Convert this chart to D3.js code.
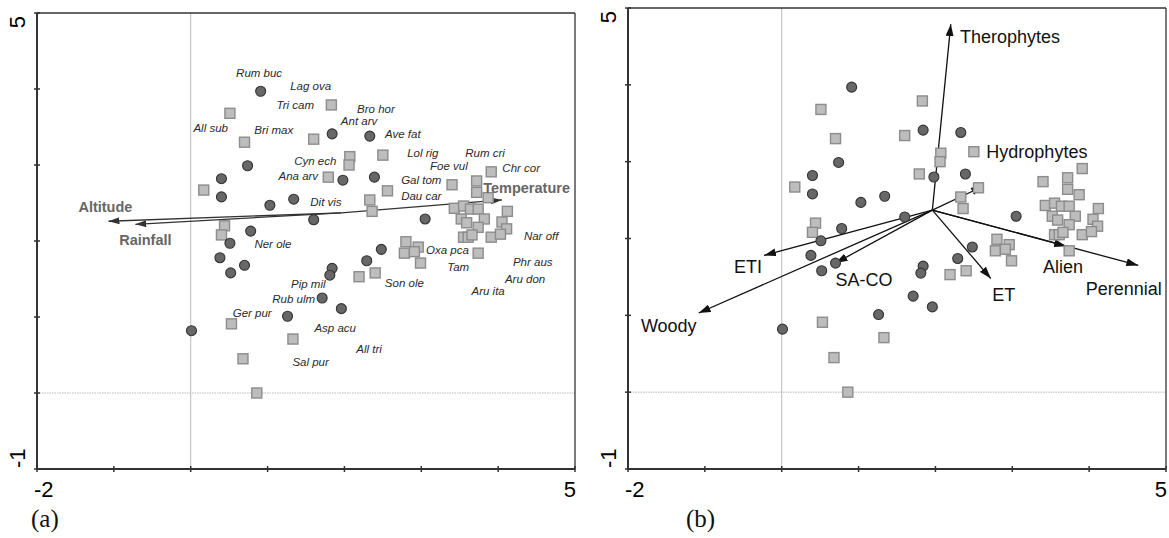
<!DOCTYPE html>
<html>
<head>
<meta charset="utf-8">
<script src="https://cdn.jsdelivr.net/npm/d3@7"></script>
<style>
  body { margin: 0; background: #fff; }
  svg { display: block; font-family: "Liberation Sans", Arial, sans-serif; }
</style>
</head>
<body>
<div id="chart"></div>
<script>
// site scores (same samples in both panels), [axis1, axis2]
const circleSites = [
  [0.91, 3.97], [1.84, 3.41], [2.33, 3.38], [0.74, 2.99], [0.40, 2.82],
  [0.40, 2.58], [1.03, 2.47], [1.34, 2.55], [1.98, 2.80], [2.39, 2.84],
  [1.60, 2.28], [3.05, 2.29], [0.78, 2.13], [0.51, 1.97], [0.38, 1.78],
  [0.70, 1.68], [0.52, 1.58], [2.48, 1.89], [2.29, 1.74], [1.84, 1.64],
  [1.81, 1.55], [1.71, 1.25], [1.96, 1.11], [1.26, 1.01], [0.01, 0.82]
];
const squareSites = [
  [0.51, 3.68], [1.83, 3.79], [0.70, 3.30], [1.60, 3.34], [2.07, 3.11],
  [2.06, 3.00], [1.79, 2.84], [0.17, 2.67], [2.50, 3.13], [2.56, 2.66],
  [2.33, 2.54], [2.36, 2.39], [0.44, 2.20], [0.40, 2.08], [2.19, 1.53],
  [2.40, 1.58], [0.53, 0.91], [1.33, 0.71], [0.68, 0.45], [0.86, 0.00],
  [2.80, 1.99], [2.96, 1.92], [2.78, 1.84], [2.91, 1.86], [2.99, 1.71],
  [3.74, 1.84], [3.40, 2.74], [3.91, 2.91], [3.72, 2.79], [3.72, 2.64],
  [3.87, 2.57], [3.43, 2.43], [3.55, 2.46], [3.64, 2.42], [3.74, 2.42],
  [4.12, 2.39], [3.52, 2.29], [3.59, 2.24], [3.82, 2.29], [4.05, 2.25],
  [3.74, 2.18], [4.11, 2.16], [3.55, 2.05], [3.61, 2.05], [3.66, 2.08],
  [3.91, 2.05], [4.03, 2.09]
];

// species labels, panel (a)
const speciesNames = ["Rum buc", "Lag ova", "Tri cam", "All sub", "Bri max", "Bro hor", "Ant arv",
  "Ave fat", "Cyn ech", "Ana arv", "Dit vis", "Lol rig", "Rum cri", "Foe vul", "Chr cor",
  "Gal tom", "Dau car", "Oxa pca", "Tam", "Son ole", "Aru ita", "Nar off", "Phr aus",
  "Aru don", "Ner ole", "Pip mil", "Rub ulm", "Ger pur", "Asp acu", "Sal pur", "All tri"];
const speciesX = [0.89, 1.56, 1.36, 0.26, 1.08, 2.41, 2.19, 2.76, 1.62, 1.40, 1.76, 3.02, 3.83, 3.36, 4.30,
  3.00, 3.00, 3.34, 3.48, 2.78, 3.87, 4.56, 4.45, 4.35, 1.07, 1.53, 1.34, 0.80, 1.88, 1.56, 2.32];
const speciesY = [4.21, 4.04, 3.79, 3.49, 3.46, 3.74, 3.58, 3.41, 3.05, 2.86, 2.51, 3.16, 3.16, 2.99, 2.96,
  2.80, 2.59, 1.88, 1.66, 1.45, 1.34, 2.07, 1.72, 1.50, 1.96, 1.43, 1.24, 1.05, 0.86, 0.41, 0.58];

// arrow origin (both panels)
const arrowOrigin = [1.96, 2.37];

// panel (a) environmental variables
const envNames = ["Altitude", "Rainfall", "Temperature"];
const envTips = [[-1.07, 2.26], [-0.72, 2.22], [4.05, 2.54]];
const envLabels = [[-1.11, 2.45], [-0.59, 2.01], [4.37, 2.70]];

// panel (b) traits
const traitNames = ["Therophytes", "Hydrophytes", "Alien", "Perennial", "ET", "ETI", "SA-CO", "Woody"];
const traitTips = [[2.20, 4.79], [2.62, 2.68], [3.70, 1.90], [4.64, 1.65], [2.72, 1.48], [-0.23, 1.78], [0.70, 1.68], [-1.08, 1.03]];
const traitLabels = [[2.97, 4.62], [3.32, 3.13], [3.66, 1.63], [4.45, 1.34], [2.89, 1.26], [-0.44, 1.63], [1.07, 1.46], [-1.47, 0.86]];

const xTicks = [-2, -1, 0, 1, 2, 3, 4, 5];
const yTicks = [-1, 0, 1, 2, 3, 4, 5];

const W = 1169, H = 538;
const svg = d3.select('#chart').append('svg').attr('width', W).attr('height', H);

const defs = svg.append('defs');
function addMarker(id, color, len, half) {
  defs.append('marker')
    .attr('id', id)
    .attr('markerUnits', 'userSpaceOnUse')
    .attr('viewBox', `0 ${-half} ${len} ${half * 2}`)
    .attr('refX', len).attr('refY', 0)
    .attr('markerWidth', len).attr('markerHeight', half * 2)
    .attr('orient', 'auto')
    .append('path')
    .attr('d', `M0,${-half}L${len},0L0,${half}Z`)
    .attr('fill', color);
}
addMarker('headA', '#333', 11, 3.5);
addMarker('headB', '#111', 12, 4);

function drawPanel(cfg) {
  const x = d3.scaleLinear().domain([-2, 5]).range(cfg.xRange);
  const y = d3.scaleLinear().domain([-1, 5]).range(cfg.yRange);
  const g = svg.append('g');
  const [x0, x1] = cfg.xRange;
  const [y0, y1] = cfg.yRange;

  // zero lines
  g.append('line').attr('x1', x(0)).attr('x2', x(0)).attr('y1', y1).attr('y2', y0)
    .attr('stroke', '#aaa').attr('stroke-width', 0.8);
  g.append('line').attr('x1', x0).attr('x2', x1).attr('y1', y(0)).attr('y2', y(0))
    .attr('stroke', '#aaa').attr('stroke-width', 0.8).attr('stroke-dasharray', '1.5,1');

  // frame
  g.append('line').attr('x1', x0).attr('x2', x1).attr('y1', y1).attr('y2', y1).attr('stroke', '#333').attr('stroke-width', 1.3);
  g.append('line').attr('x1', x1).attr('x2', x1).attr('y1', y1).attr('y2', y0).attr('stroke', '#333').attr('stroke-width', 1.3);
  g.append('line').attr('x1', x0).attr('x2', x0).attr('y1', y1).attr('y2', y0 + 1).attr('stroke', '#333').attr('stroke-width', 2);
  g.append('line').attr('x1', x0 - 1).attr('x2', x1).attr('y1', y0).attr('y2', y0).attr('stroke', '#333').attr('stroke-width', 2);

  // ticks
  g.selectAll('.xt').data(xTicks).enter().append('line')
    .attr('x1', d => x(d)).attr('x2', d => x(d)).attr('y1', y0 - 3).attr('y2', y0 + 3)
    .attr('stroke', '#333').attr('stroke-width', 1.5);
  g.selectAll('.yt').data(yTicks).enter().append('line')
    .attr('x1', x0 - 3).attr('x2', x0 + 3).attr('y1', d => y(d)).attr('y2', d => y(d))
    .attr('stroke', '#333').attr('stroke-width', 1.5);

  // tick labels (only ends)
  g.append('text').attr('x', x(-2) - 3).attr('y', 497).attr('font-size', 22).attr('fill', '#000').text('-2');
  g.append('text').attr('x', x(5) + 1).attr('y', 497).attr('text-anchor', 'end').attr('font-size', 22).attr('fill', '#000').text('5');
  g.append('text').attr('transform', `translate(${x0 - 12},${y(5) + 3}) rotate(-90)`)
    .attr('text-anchor', 'end').attr('font-size', 22).attr('fill', '#000').text('5');
  g.append('text').attr('transform', `translate(${x0 - 12},${y(-1) - 1}) rotate(-90)`)
    .attr('text-anchor', 'start').attr('font-size', 22).attr('fill', '#000').text('-1');

  // panel letter
  g.append('text').attr('x', cfg.letterX).attr('y', 527)
    .attr('font-family', '"Liberation Serif", "Times New Roman", serif').attr('font-size', 25)
    .attr('fill', '#111').text(cfg.letter);

  // arrows drawn under the points
  const arrows = g.append('g');
  arrows.selectAll('line').data(cfg.tips).enter().append('line')
    .attr('x1', x(arrowOrigin[0])).attr('y1', y(arrowOrigin[1]))
    .attr('x2', d => x(d[0])).attr('y2', d => y(d[1]))
    .attr('stroke', cfg.arrowColor).attr('stroke-width', 1.3)
    .attr('marker-end', `url(#${cfg.marker})`);

  // sites
  g.selectAll('.sq').data(squareSites).enter().append('rect')
    .attr('x', d => x(d[0]) - 5).attr('y', d => y(d[1]) - 5)
    .attr('width', 10).attr('height', 10)
    .attr('fill', '#bdbdbd').attr('stroke', '#8c8c8c').attr('stroke-width', 1.4);
  g.selectAll('.ci').data(circleSites).enter().append('circle')
    .attr('cx', d => x(d[0])).attr('cy', d => y(d[1])).attr('r', 5)
    .attr('fill', '#676767').attr('stroke', '#333').attr('stroke-width', 1.1);

  return { g, x, y };
}

// panel (a)
const pa = drawPanel({
  xRange: [37, 575], yRange: [469, 13], letter: '(a)', letterX: 31,
  tips: envTips, arrowColor: '#333', marker: 'headA'
});
pa.g.selectAll('.sp').data(speciesNames).enter().append('text')
  .attr('x', (d, i) => pa.x(speciesX[i])).attr('y', (d, i) => pa.y(speciesY[i]))
  .attr('text-anchor', 'middle').attr('dominant-baseline', 'central')
  .attr('font-style', 'italic').attr('font-size', 11.5).attr('fill', '#2a2a2a')
  .text(d => d);
pa.g.selectAll('.env').data(envNames).enter().append('text')
  .attr('x', (d, i) => pa.x(envLabels[i][0])).attr('y', (d, i) => pa.y(envLabels[i][1]))
  .attr('text-anchor', 'middle').attr('dominant-baseline', 'central')
  .attr('font-weight', 'bold').attr('font-size', 14.5).attr('fill', '#666')
  .text(d => d);

// panel (b)
const pb = drawPanel({
  xRange: [628, 1166], yRange: [469, 8], letter: '(b)', letterX: 686,
  tips: traitTips, arrowColor: '#111', marker: 'headB'
});
pb.g.selectAll('.tr').data(traitNames).enter().append('text')
  .attr('x', (d, i) => pb.x(traitLabels[i][0])).attr('y', (d, i) => pb.y(traitLabels[i][1]))
  .attr('text-anchor', 'middle').attr('dominant-baseline', 'central')
  .attr('font-size', 18).attr('fill', '#111')
  .text(d => d);
</script>
</body>
</html>
